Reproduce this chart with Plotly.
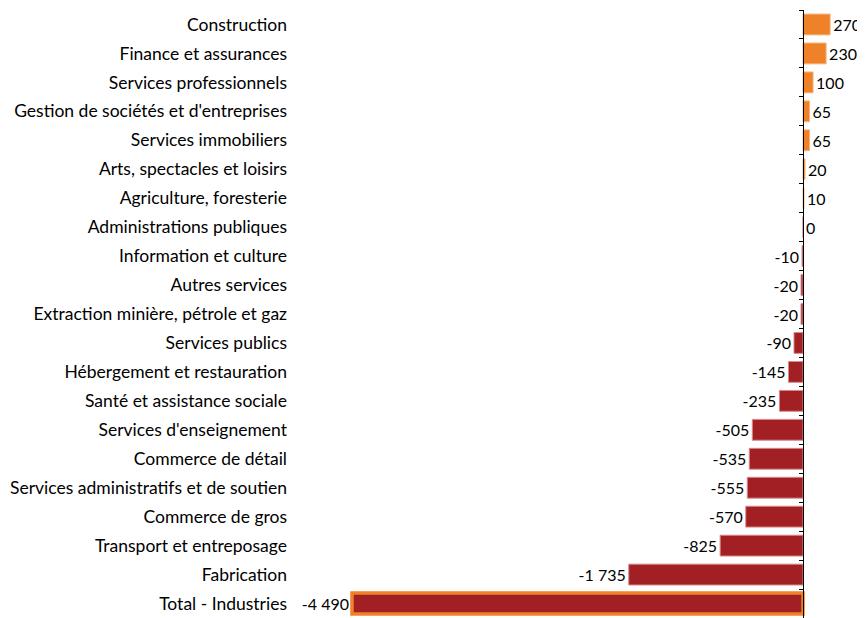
import plotly.graph_objects as go

categories = [
    "Construction", "Finance et assurances", "Services professionnels",
    "Gestion de sociétés et d'entreprises", "Services immobiliers",
    "Arts, spectacles et loisirs", "Agriculture, foresterie",
    "Administrations publiques", "Information et culture", "Autres services",
    "Extraction minière, pétrole et gaz", "Services publics",
    "Hébergement et restauration", "Santé et assistance sociale",
    "Services d'enseignement", "Commerce de détail",
    "Services administratifs et de soutien", "Commerce de gros",
    "Transport et entreposage", "Fabrication", "Total - Industries",
]
values = [270, 230, 100, 65, 65, 20, 10, 0, -10, -20, -20, -90, -145, -235,
          -505, -535, -555, -570, -825, -1735, -4490]

ORANGE = "#EF8229"
RED = "#A21F24"
FONT = "Lato"

def fmt(v):
    s = f"{abs(v):,}".replace(",", " ")
    return ("-" if v < 0 else "") + s

colors = [ORANGE if v > 0 else RED for v in values]
line_colors = ["#F6B57E" if v > 0 else "#D98A8C" for v in values]
line_widths = [1] * len(values)
line_colors[-1] = ORANGE
line_widths[-1] = 3.5

xmin, xmax = -5127, 617

fig = go.Figure()
fig.add_trace(go.Bar(
    x=values, y=categories, orientation="h",
    marker=dict(color=colors, line=dict(color=line_colors, width=line_widths)),
    text=[fmt(v) for v in values], textposition="outside",
    textfont=dict(family=FONT, size=16, color="#000000"),
    cliponaxis=False, width=0.72, showlegend=False, hoverinfo="skip",
))
# invisible trace to hold the crossing axis at x=0
fig.add_trace(go.Scatter(x=[0], y=[0], yaxis="y2", mode="markers",
                         marker=dict(opacity=0), showlegend=False, hoverinfo="skip"))

n = len(categories)
fig.update_layout(
    width=857, height=610,
    margin=dict(l=280, r=0, t=2, b=0),
    plot_bgcolor="white", paper_bgcolor="white",
    font=dict(family=FONT, size=16, color="#000000"),
    xaxis=dict(range=[xmin, xmax], showgrid=False, zeroline=False,
               showticklabels=False, showline=False, ticks=""),
    yaxis=dict(autorange=False, range=[n - 0.5, -0.5], showgrid=False,
               showline=False, ticks="", zeroline=False,
               tickfont=dict(family=FONT, size=17.5, color="#000000")),
    yaxis2=dict(overlaying="y", anchor="free",
                position=(0 - xmin) / (xmax - xmin),
                range=[n - 0.5, -0.5], showgrid=False, zeroline=False,
                showline=True, linecolor="#000000", linewidth=1,
                ticks="outside", ticklen=4, tickcolor="#000000", tickwidth=1,
                tickvals=[i - 0.5 for i in range(n + 1)],
                showticklabels=False),
)
fig.write_html("out.html")
